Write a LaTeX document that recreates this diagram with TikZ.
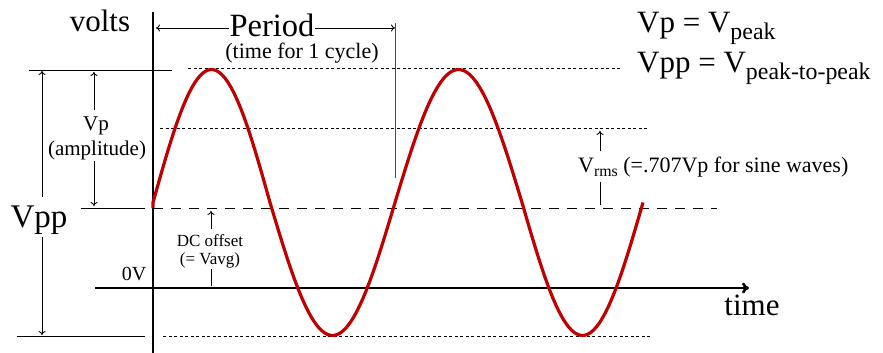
\documentclass[tikz,border=0pt]{standalone}
\usepackage{fontspec}
\setmainfont{Liberation Serif}
\usetikzlibrary{arrows.meta}
\definecolor{wavered}{RGB}{192,0,0}
\newcommand{\lowsub}[2][.72]{\raisebox{-.2em}{\scalebox{#1}{#2}}}
\newcommand{\fs}[1]{\fontsize{#1}{#1}\selectfont}

\begin{document}
\begin{tikzpicture}[x=1pt, y=-1pt, >={To[length=4pt,width=7pt]}]
    \tikzset{
        lbl/.style={inner sep=0pt, anchor=base},
        axis/.style={line width=2.6pt},
        guide/.style={line width=0.9pt},
        dotline/.style={line width=0.9pt, dash pattern=on 3pt off 2.5pt},
        dashline/.style={line width=0.9pt, dash pattern=on 10pt off 8pt},
        wave/.style={line width=3.2pt, color=wavered, line join=round}
    }
    \useasboundingbox (0,0) rectangle (883,353);

    % axes
    \coordinate (axtop) at (153,12);
    \coordinate (axbot) at (153,353);
    \coordinate (axleft) at (95,288);
    \coordinate (axright) at (749,288);
    \draw[axis] (axtop) -- (axbot);
    \draw[axis, -{To[length=7pt,width=11pt]}] (axleft) -- (axright);

    % reference levels
    \coordinate (pk1) at (188,68);   \coordinate (pk2) at (620,68);
    \coordinate (rm1) at (160,128);  \coordinate (rm2) at (648,128);
    \coordinate (tr1) at (163,336);  \coordinate (tr2) at (652,336);
    \coordinate (dc1) at (153,208);  \coordinate (dc2) at (717,208);
    \draw[dotline] (pk1) -- (pk2);
    \draw[dotline] (rm1) -- (rm2);
    \draw[dotline] (tr1) -- (tr2);
    \draw[dashline] (dc1) -- (dc2);

    \coordinate (top1) at (29,70);   \coordinate (top2) at (172,70);
    \coordinate (mid1) at (81,208);  \coordinate (mid2) at (145,208);
    \coordinate (bot1) at (17,336);  \coordinate (bot2) at (145,336);
    \draw[guide] (top1) -- (top2);
    \draw[guide] (mid1) -- (mid2);
    \draw[guide] (bot1) -- (bot2);

    % the wave
    \draw[wave] (153,208) \foreach \a/\b/\s in {153/270/1, 270/395/-1, 395/522/1, 522/643/-1} {
        -- plot[domain=\a:\b, samples=40] (\x, {202.5-\s*133*sin(180/(\b-\a)*(\x-\a))})
    };

    % labels
    \node[lbl, font=\fs{31}] (volts) at (100,32) {volts};
    \node[lbl, font=\fs{32.5}] (period) at (272,37) {Period};
    \node[lbl, font=\fs{22}] (cycle) at (302,59) {(time for 1 cycle)};
    \node[lbl, anchor=base west, font=\fs{31}] (vpeq) at (637,33) {Vp = V\lowsub[.77]{peak}};
    \node[lbl, anchor=base west, font=\fs{31}] (vppeq) at (637,73) {Vpp = V\lowsub[.77]{peak-to-peak}};
    \node[lbl, font=\fs{21}] (vplbl) at (96,130) {Vp};
    \node[lbl, font=\fs{21}] (amplbl) at (97,155) {(amplitude)};
    \node[lbl, font=\fs{33}] (vpplbl) at (39,227) {Vpp};
    \node[lbl, font=\fs{20}] (zerov) at (134,280) {0V};
    \node[lbl, font=\fs{17}] (dclbl) at (210,246) {DC offset};
    \node[lbl, font=\fs{17}] (avglbl) at (210,264) {(= Vavg)};
    \node[lbl, anchor=base west, font=\fs{22}] (rmslbl) at (578,172) {V\lowsub{rms} (=.707Vp for sine waves)};
    \node[lbl, font=\fs{31}] (timelbl) at (752,315) {time};

    % period marker
    \coordinate (pl) at (156,28);
    \coordinate (pr) at (395,28);
    \coordinate (mk1) at (395,23);
    \coordinate (mk2) at (395,178);
    \draw[guide, ->] (period.west |- pl) -- (pl);
    \draw[guide, ->] (period.east |- pr) -- (pr);
    \draw[guide, black!70] (mk1) -- (mk2);

    % Vpp and Vp arrows
    \coordinate (vpptop) at (42,71);
    \coordinate (vppbot) at (42,335);
    \draw[guide, ->] ([yshift=8.5pt]vpplbl.north -| vpptop) -- (vpptop);
    \draw[guide, ->] ([yshift=-3pt]vpplbl.south -| vppbot) -- (vppbot);
    \coordinate (vptop) at (94,72);
    \coordinate (vpbot) at (94,206);
    \draw[guide, ->] ([yshift=6pt]vplbl.north -| vptop) -- (vptop);
    \draw[guide, ->] ([yshift=-1.5pt]amplbl.south -| vpbot) -- (vpbot);

    % DC offset and rms arrows
    \coordinate (dctop) at (211,211);
    \coordinate (dcbot) at (211,286);
    \draw[guide, ->] ([yshift=4.5pt]dclbl.north -| dctop) -- (dctop);
    \draw[guide] ([yshift=-1.5pt]avglbl.south -| dcbot) -- (dcbot);
    \coordinate (rmstop) at (600,131);
    \coordinate (rmsbot) at (600,205);
    \draw[guide, ->] ([yshift=5pt]rmslbl.north -| rmstop) -- (rmstop);
    \draw[guide] ([yshift=-5pt]rmslbl.south -| rmsbot) -- (rmsbot);
\end{tikzpicture}
\end{document}
